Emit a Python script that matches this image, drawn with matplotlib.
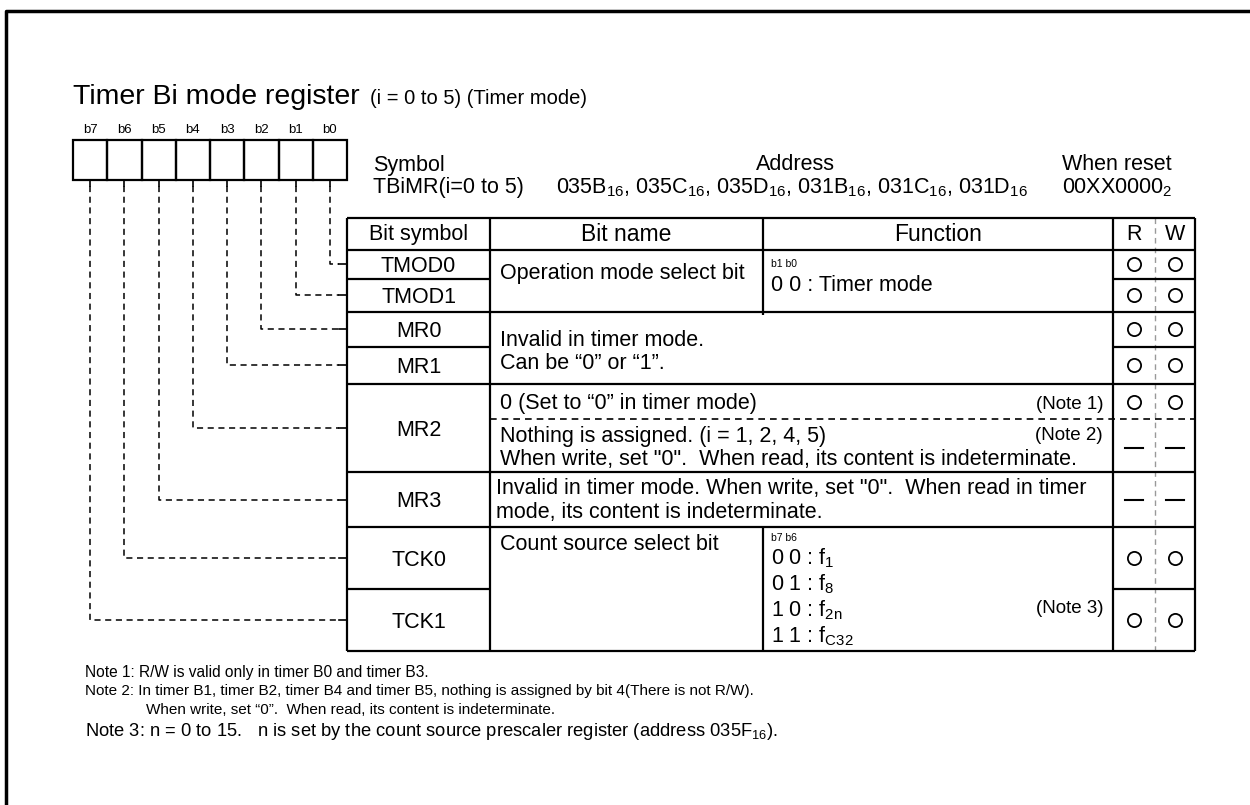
import matplotlib
matplotlib.use("Agg")
import matplotlib.pyplot as plt
from matplotlib.patches import Rectangle

plt.rcParams["font.family"] = ["Liberation Sans", "DejaVu Sans"]
plt.rcParams["mathtext.fontset"] = "custom"
plt.rcParams["mathtext.rm"] = "Liberation Sans"
plt.rcParams["mathtext.it"] = "Liberation Sans:italic"
plt.rcParams["mathtext.bf"] = "Liberation Sans:bold"

# ---- content ----
title = "Timer Bi mode register"
subtitle = "(i = 0 to 5) (Timer mode)"
bit_labels = ["b7", "b6", "b5", "b4", "b3", "b2", "b1", "b0"]
symbol_name = "TBiMR(i=0 to 5)"
addresses = ["035B", "035C", "035D", "031B", "031C", "031D"]
reset_value = "00XX0000"
headers = ["Bit symbol", "Bit name", "Function", "R", "W"]
# bit symbols from b0 to b7
bit_symbols = ["TMOD0", "TMOD1", "MR0", "MR1", "MR2", "MR3", "TCK0", "TCK1"]
# R/W marks per cell: "o" = read/write ok, "-" = nothing
rw_marks = ["o", "o", "o", "o", "o", "-", "-", "o", "o"]
count_codes = ["0 0", "0 1", "1 0", "1 1"]
count_clocks = ["1", "8", "2n", "C32"]
notes = [
    "Note 1: R/W is valid only in timer B0 and timer B3.",
    "Note 2: In timer B1, timer B2, timer B4 and timer B5, nothing is assigned by bit 4(There is not R/W).",
    "When write, set \u201c0\u201d.  When read, its content is indeterminate.",
    "Note 3: n = 0 to 15.   n is set by the count source prescaler register (address 035F$_{16}$).",
]

# ---- layout (pixels) ----
X0, X1, X2, X3, XRW, X4 = 347, 490, 763, 1113, 1155, 1195
TOP, HDR = 218, 250
TM_MID, TM_BOT = 279, 312
MR_MID, MR1_BOT = 347, 384
MR2_DASH, MR2_BOT = 419, 472
MR3_BOT, TCK_MID, BOT = 527, 589, 651
BOX_L, BOX_W, BOX_T, BOX_B = 73, 34.25, 140, 180
FS = 15.5
LW = 1.6

fig = plt.figure(figsize=(12.5, 8.05), dpi=100)
ax = fig.add_axes([0, 0, 1, 1])
ax.set_xlim(0, 1250)
ax.set_ylim(805, 0)
ax.axis("off")

# outer frame
ax.plot([6, 6, 1250], [805, 11, 11], color="black", lw=2.5, solid_capstyle="butt")

# title
ax.text(BOX_L, 104, title, fontsize=20.5, va="baseline")
ax.text(BOX_L + 297, 104, subtitle, fontsize=14.5, va="baseline")

# register boxes
for i, lab in enumerate(bit_labels):
    x = BOX_L + i * BOX_W
    ax.add_patch(Rectangle((x, BOX_T), BOX_W, BOX_B - BOX_T, fill=False, lw=LW, ec="black"))
    ax.text(x + BOX_W / 2, 130, lab, fontsize=9.5, ha="center", va="center")

# symbol / address / reset
ax.text(373, 165, "Symbol", fontsize=FS, va="center")
ax.text(373, 188, symbol_name, fontsize=FS, va="center")
ax.text(795, 165, "Address", fontsize=FS, va="center", ha="center")
addr_txt = ", ".join(a + "$_{16}$" for a in addresses)
ax.text(556, 188, addr_txt, fontsize=FS, va="center")
ax.text(1062, 165, "When reset", fontsize=FS, va="center")
ax.text(1062, 188, reset_value + "$_{2}$", fontsize=FS, va="center")


def hline(y, xa, xb, **kw):
    ax.plot([xa, xb], [y, y], color=kw.pop("color", "black"), lw=kw.pop("lw", LW),
            solid_capstyle="butt", **kw)


def vline(x, ya, yb, **kw):
    ax.plot([x, x], [ya, yb], color=kw.pop("color", "black"), lw=kw.pop("lw", LW),
            solid_capstyle="butt", **kw)


# table frame
vline(XRW, TOP, BOT, color="#999999", lw=1, ls=(0, (4, 3)))
for y in [TOP, HDR, TM_BOT, MR1_BOT, MR2_BOT, MR3_BOT, BOT]:
    hline(y, X0, X4)
for y in [TM_MID, MR_MID, TCK_MID]:
    hline(y, X0, X1)
    hline(y, X3, X4)
hline(MR2_DASH, X1, X4, lw=1.2, ls=(0, (4, 3)))
for x in [X0, X1, X3, X4]:
    vline(x, TOP, BOT)
vline(X2, TOP, TM_BOT + 3)
vline(X2, MR3_BOT, BOT)

# header
hy = (TOP + HDR) / 2
ax.text((X0 + X1) / 2, hy, headers[0], fontsize=FS, ha="center", va="center")
ax.text((X1 + X2) / 2, hy, headers[1], fontsize=16.5, ha="center", va="center")
ax.text((X2 + X3) / 2, hy, headers[2], fontsize=16.5, ha="center", va="center")
ax.text((X3 + XRW) / 2, hy, headers[3], fontsize=FS, ha="center", va="center")
ax.text((XRW + X4) / 2, hy, headers[4], fontsize=FS, ha="center", va="center")

# bit symbol rows (centre y of each symbol)
sym_y = [(HDR + TM_MID) / 2, (TM_MID + TM_BOT) / 2, (TM_BOT + MR_MID) / 2,
         (MR_MID + MR1_BOT) / 2, (MR1_BOT + MR2_BOT) / 2, (MR2_BOT + MR3_BOT) / 2,
         (MR3_BOT + TCK_MID) / 2, (TCK_MID + BOT) / 2]
for s, y in zip(bit_symbols, sym_y):
    ax.text((X0 + X1) / 2, y + 2, s, fontsize=FS, ha="center", va="center")

# leader lines from register bits to symbols
for k, y in enumerate(sym_y):
    bx = BOX_L + (7 - k + 0.5) * BOX_W
    ax.plot([bx, bx], [BOX_B, BOX_B + 6], color="black", lw=1.2)
    ax.plot([bx, bx, X0 - 8], [BOX_B + 6, y, y], color="black", lw=1.1, ls=(0, (4, 3)))
    ax.plot([X0 - 8, X0], [y, y], color="black", lw=1.2)

# bit name / function text
TX = X1 + 10
FX = X2 + 8
ax.text(TX, 273, "Operation mode select bit", fontsize=FS, va="center")
ax.text(FX, 264, "b1 b0", fontsize=7.5, va="center")
ax.text(FX, 285, "0 0 : Timer mode", fontsize=FS, va="center")
ax.text(TX, 340, "Invalid in timer mode.", fontsize=FS, va="center")
ax.text(TX, 363, "Can be \u201c0\u201d or \u201c1\u201d.", fontsize=FS, va="center")
ax.text(TX, 403, "0 (Set to \u201c0\u201d in timer mode)", fontsize=FS, va="center")
ax.text(X3 - 10, 404, "(Note 1)", fontsize=13.5, va="center", ha="right")
ax.text(TX, 436, "Nothing is assigned. (i = 1, 2, 4, 5)", fontsize=FS, va="center")
ax.text(X3 - 10, 435, "(Note 2)", fontsize=13.5, va="center", ha="right")
ax.text(TX, 459, "When write, set \"0\".  When read, its content is indeterminate.",
        fontsize=FS, va="center")
ax.text(X1 + 6, 488, "Invalid in timer mode. When write, set \"0\".  When read in timer",
        fontsize=FS, va="center")
ax.text(X1 + 6, 512, "mode, its content is indeterminate.", fontsize=FS, va="center")
ax.text(TX, 544, "Count source select bit", fontsize=FS, va="center")
ax.text(FX, 538, "b7 b6", fontsize=7.5, va="center")
for i, (code, clk) in enumerate(zip(count_codes, count_clocks)):
    ax.text(FX, 558 + i * 26, code + " : f$_{\\mathrm{" + clk + "}}$", fontsize=FS, va="center")
ax.text(X3 - 10, 608, "(Note 3)", fontsize=13.5, va="center", ha="right")

# R/W marks
rw_y = [sym_y[0], sym_y[1], sym_y[2], sym_y[3], (MR1_BOT + MR2_DASH) / 2,
        (MR2_DASH + MR2_BOT) / 2 + 2, sym_y[5], sym_y[6], sym_y[7]]
for m, y in zip(rw_marks, rw_y):
    for cx in [(X3 + XRW) / 2, (XRW + X4) / 2]:
        if m == "o":
            ax.plot(cx, y, marker="o", ms=9.5, mfc="none", mec="black", mew=1.3)
        else:
            ax.plot([cx - 9, cx + 9], [y, y], color="black", lw=1.5)

# notes
ax.text(85, 672, notes[0], fontsize=11.2, va="center")
ax.text(85, 691, notes[1], fontsize=11, va="center")
ax.text(146, 710, notes[2], fontsize=11, va="center")
ax.text(85, 731, notes[3], fontsize=13.2, va="center")

fig.savefig("out.png", dpi=100, facecolor="white")
